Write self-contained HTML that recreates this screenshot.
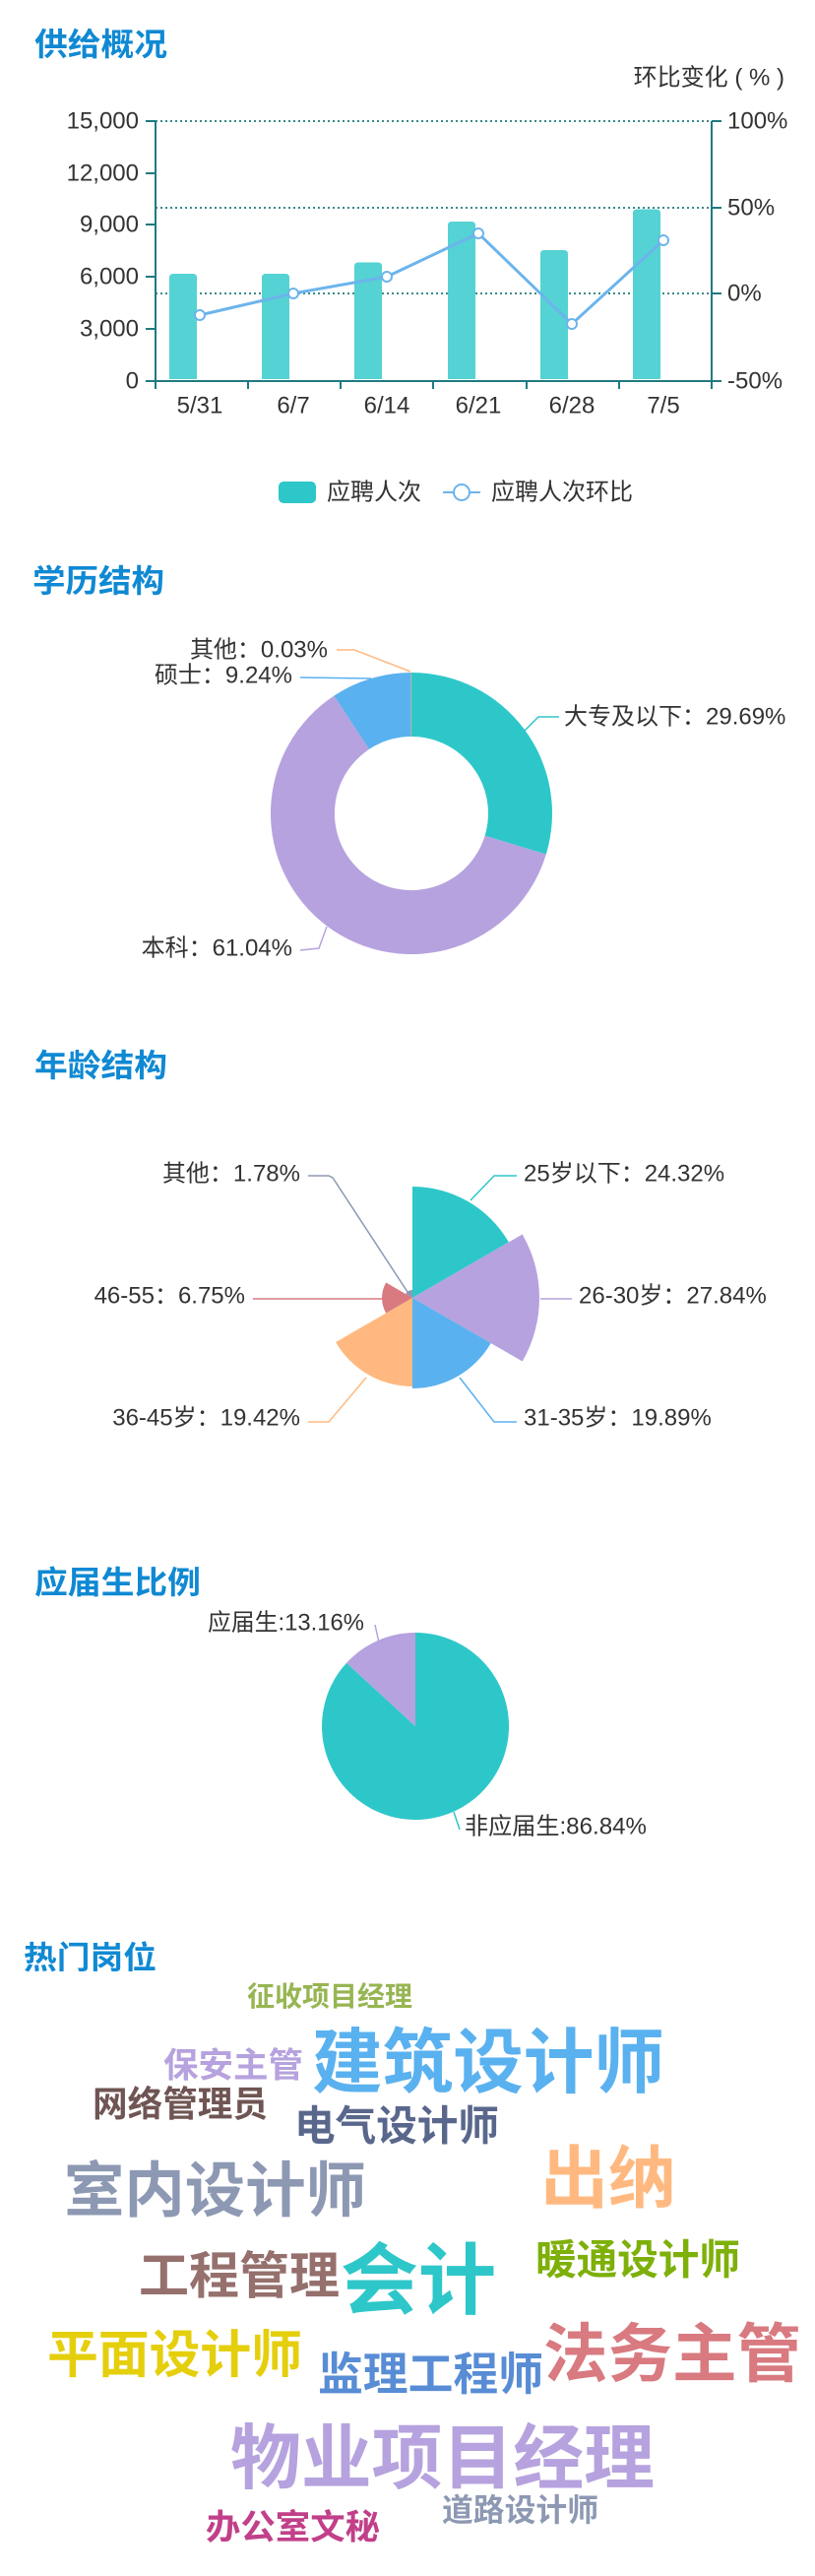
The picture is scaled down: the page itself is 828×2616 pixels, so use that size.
<!DOCTYPE html>
<html><head><meta charset="utf-8"><style>
html,body{margin:0;padding:0;background:#fff;}
svg{display:block;font-family:"Liberation Sans","Noto Sans CJK SC",sans-serif;}
.t{font-size:32px;font-weight:bold;fill:#1089d3;}
.ax{font-size:24px;fill:#333;}
.lb{font-size:24px;fill:#333;}
.w{font-weight:bold;font-family:"Noto Sans CJK SC","WenQuanYi Zen Hei",sans-serif;}
</style></head><body>
<svg width="828" height="2616" viewBox="0 0 828 2616" xmlns="http://www.w3.org/2000/svg">
<!-- Section 1 -->
<text class="t" x="35" y="45" dominant-baseline="central" textLength="135" lengthAdjust="spacingAndGlyphs">供给概况</text>
<text class="ax" x="797" y="79" text-anchor="end" dominant-baseline="central">环比变化 ( % )</text>
<g stroke="#3a8a8a" stroke-width="2" stroke-dasharray="2,3">
<line x1="158" y1="123" x2="723" y2="123"/><line x1="158" y1="211" x2="723" y2="211"/><line x1="158" y1="298" x2="723" y2="298"/>
</g>
<g fill="#55d2d3">
<path d="M172,385 V282 Q172,278 176,278 H196 Q200,278 200,282 V385 Z"/>
<path d="M266,385 V282 Q266,278 270,278 H290 Q294,278 294,282 V385 Z"/>
<path d="M360,385 V270.5 Q360,266.5 364,266.5 H384 Q388,266.5 388,270.5 V385 Z"/>
<path d="M455,385 V229 Q455,225 459,225 H479 Q483,225 483,229 V385 Z"/>
<path d="M549,385 V258 Q549,254 553,254 H573 Q577,254 577,258 V385 Z"/>
<path d="M643,385 V216.5 Q643,212.5 647,212.5 H667 Q671,212.5 671,216.5 V385 Z"/>
</g>
<g stroke="#1f7a80" stroke-width="2" fill="none">
<line x1="158" y1="123" x2="158" y2="395"/><line x1="723" y1="123" x2="723" y2="395"/>
<line x1="158" y1="387" x2="723" y2="387"/>
<line x1="252" y1="387" x2="252" y2="395"/><line x1="346" y1="387" x2="346" y2="395"/><line x1="440" y1="387" x2="440" y2="395"/><line x1="535" y1="387" x2="535" y2="395"/><line x1="629" y1="387" x2="629" y2="395"/>
<line x1="148" y1="123" x2="158" y2="123"/><line x1="148" y1="176" x2="158" y2="176"/><line x1="148" y1="228" x2="158" y2="228"/><line x1="148" y1="281" x2="158" y2="281"/><line x1="148" y1="334" x2="158" y2="334"/><line x1="148" y1="387" x2="158" y2="387"/>
<line x1="723" y1="123" x2="733" y2="123"/><line x1="723" y1="211" x2="733" y2="211"/><line x1="723" y1="298" x2="733" y2="298"/><line x1="723" y1="387" x2="733" y2="387"/>
</g>
<polyline points="203,320 298,298 393,281 486,237 581,329 674,244" fill="none" stroke="#6cb4ec" stroke-width="3"/>
<g fill="#fff" stroke="#6cb4ec" stroke-width="2">
<circle cx="203" cy="320" r="5"/><circle cx="298" cy="298" r="5"/><circle cx="393" cy="281" r="5"/><circle cx="486" cy="237" r="5"/><circle cx="581" cy="329" r="5"/><circle cx="674" cy="244" r="5"/>
</g>
<g class="ax" text-anchor="end" dominant-baseline="central">
<text x="141" y="123">15,000</text><text x="141" y="176">12,000</text><text x="141" y="228">9,000</text><text x="141" y="281">6,000</text><text x="141" y="334">3,000</text><text x="141" y="387">0</text>
</g>
<g class="ax" dominant-baseline="central">
<text x="739" y="123">100%</text><text x="739" y="211">50%</text><text x="739" y="298">0%</text><text x="739" y="387">-50%</text>
</g>
<g class="ax" text-anchor="middle" dominant-baseline="central">
<text x="203" y="412">5/31</text><text x="298" y="412">6/7</text><text x="393" y="412">6/14</text><text x="486" y="412">6/21</text><text x="581" y="412">6/28</text><text x="674" y="412">7/5</text>
</g>
<rect x="283" y="489" width="38" height="22" rx="5" fill="#2ec7c9"/>
<text class="ax" x="332" y="500" dominant-baseline="central">应聘人次</text>
<line x1="450" y1="500" x2="488" y2="500" stroke="#6cb4ec" stroke-width="2"/>
<circle cx="469" cy="500" r="8" fill="#fff" stroke="#6cb4ec" stroke-width="2"/>
<text class="ax" x="499" y="500" dominant-baseline="central">应聘人次环比</text>

<!-- Section 2 -->
<text class="t" x="33" y="590" dominant-baseline="central" textLength="134" lengthAdjust="spacingAndGlyphs">学历结构</text>
<path d="M418,683 A143,143 0 0 1 554.8,867.6 L492.6,848.7 A78,78 0 0 0 418,748 Z" fill="#2ec7c9"/>
<path d="M554.8,867.6 A143,143 0 1 1 339.3,706.6 L375.1,760.9 A78,78 0 1 0 492.6,848.7 Z" fill="#b6a2de"/>
<path d="M339.3,706.6 A143,143 0 0 1 417.75,683 L417.9,748 A78,78 0 0 0 375.1,760.9 Z" fill="#5ab1ef"/>
<line x1="417.8" y1="683" x2="417.8" y2="748" stroke="#ffb980" stroke-width="0.6"/>
<g fill="none" stroke-width="1.5">
<polyline points="342,660 360,660 417,682" stroke="#ffb980"/>
<polyline points="305,688 377,689" stroke="#5ab1ef"/>
<polyline points="533,742 547,728 568,728" stroke="#2ec7c9"/>
<polyline points="305,965 324,963 332,941" stroke="#b6a2de"/>
</g>
<g class="lb" dominant-baseline="central">
<text x="333" y="660" text-anchor="end">其他：0.03%</text>
<text x="297" y="686" text-anchor="end">硕士：9.24%</text>
<text x="573" y="728">大专及以下：29.69%</text>
<text x="297" y="963" text-anchor="end">本科：61.04%</text>
</g>

<!-- Section 3 -->
<text class="t" x="35" y="1082" dominant-baseline="central" textLength="135" lengthAdjust="spacingAndGlyphs">年龄结构</text>
<path d="M419,1318 L419,1205 A113,113 0 0 1 516.9,1261.5 Z" fill="#2ec7c9"/>
<path d="M419,1318 L530.7,1253.5 A129,129 0 0 1 530.7,1382.5 Z" fill="#b6a2de"/>
<path d="M419,1318 L498.7,1364 A92,92 0 0 1 419,1410 Z" fill="#5ab1ef"/>
<path d="M419,1318 L419,1408 A90,90 0 0 1 341.1,1363 Z" fill="#ffb980"/>
<path d="M419,1318 L392.2,1333.5 A31,31 0 0 1 392.2,1302.5 Z" fill="#d87a80"/>
<path d="M419,1318 L412.1,1314 A8,8 0 0 1 419,1310 Z" fill="#8d98b3"/>
<g fill="none" stroke-width="1.5">
<polyline points="478,1219 502,1194 525,1194" stroke="#2ec7c9"/>
<polyline points="549,1319 581,1319" stroke="#b6a2de"/>
<polyline points="467,1399 502,1444 525,1444" stroke="#5ab1ef"/>
<polyline points="372,1399 334,1444 313,1444" stroke="#ffb980"/>
<polyline points="390,1319 257,1319" stroke="#d87a80"/>
<polyline points="414,1312 338,1196 334,1194 313,1194" stroke="#8d98b3"/>
</g>
<g class="lb" dominant-baseline="central">
<text x="532" y="1192">25岁以下：24.32%</text>
<text x="588" y="1316">26-30岁：27.84%</text>
<text x="532" y="1440">31-35岁：19.89%</text>
<text x="305" y="1440" text-anchor="end">36-45岁：19.42%</text>
<text x="249" y="1316" text-anchor="end">46-55：6.75%</text>
<text x="305" y="1192" text-anchor="end">其他：1.78%</text>
</g>

<!-- Section 4 -->
<text class="t" x="35" y="1607" dominant-baseline="central" textLength="169" lengthAdjust="spacingAndGlyphs">应届生比例</text>
<path d="M422,1753 L422,1658 A95,95 0 1 1 352.1,1688.7 Z" fill="#2ec7c9"/>
<path d="M422,1753 L352.1,1688.7 A95,95 0 0 1 422,1658 Z" fill="#b6a2de"/>
<polyline points="381,1650 385,1668" fill="none" stroke="#b6a2de" stroke-width="1.5"/>
<polyline points="461,1840 467,1858" fill="none" stroke="#2ec7c9" stroke-width="1.5"/>
<g class="lb" dominant-baseline="central">
<text x="211" y="1648" textLength="159" lengthAdjust="spacingAndGlyphs">应届生:13.16%</text>
<text x="472" y="1855" textLength="185" lengthAdjust="spacingAndGlyphs">非应届生:86.84%</text>
</g>

<!-- Section 5 -->
<text class="t" x="24" y="1988" dominant-baseline="central" textLength="135" lengthAdjust="spacingAndGlyphs">热门岗位</text>
<g class="w" dominant-baseline="central">
<text x="251" y="2026" font-size="28" fill="#97b552" textLength="168" lengthAdjust="spacingAndGlyphs">征收项目经理</text>
<text x="317" y="2088" font-size="72" fill="#5ab1ef" textLength="358" lengthAdjust="spacingAndGlyphs">建筑设计师</text>
<text x="166" y="2095" font-size="35" fill="#b6a2de" textLength="142" lengthAdjust="spacingAndGlyphs">保安主管</text>
<text x="94" y="2134" font-size="36" fill="#6f5553" textLength="178" lengthAdjust="spacingAndGlyphs">网络管理员</text>
<text x="299" y="2156" font-size="42" fill="#59678c" textLength="208" lengthAdjust="spacingAndGlyphs">电气设计师</text>
<text x="65" y="2219" font-size="61" fill="#8d98b3" textLength="307" lengthAdjust="spacingAndGlyphs">室内设计师</text>
<text x="549" y="2206" font-size="69" fill="#ffb980" textLength="138" lengthAdjust="spacingAndGlyphs">出纳</text>
<text x="544" y="2292" font-size="42" fill="#7eb00a" textLength="208" lengthAdjust="spacingAndGlyphs">暖通设计师</text>
<text x="141" y="2307" font-size="51" fill="#95706d" textLength="204" lengthAdjust="spacingAndGlyphs">工程管理</text>
<text x="346" y="2309" font-size="79" fill="#2ec7c9" textLength="158" lengthAdjust="spacingAndGlyphs">会计</text>
<text x="48" y="2387" font-size="52" fill="#e5cf0d" textLength="259" lengthAdjust="spacingAndGlyphs">平面设计师</text>
<text x="323" y="2408" font-size="46" fill="#588dd5" textLength="229" lengthAdjust="spacingAndGlyphs">监理工程师</text>
<text x="552" y="2385" font-size="65" fill="#d87a80" textLength="262" lengthAdjust="spacingAndGlyphs">法务主管</text>
<text x="234" y="2490" font-size="72" fill="#b6a2de" textLength="431" lengthAdjust="spacingAndGlyphs">物业项目经理</text>
<text x="449" y="2547" font-size="32" fill="#8d98b3" textLength="159" lengthAdjust="spacingAndGlyphs">道路设计师</text>
<text x="209" y="2564" font-size="35" fill="#c14089" textLength="177" lengthAdjust="spacingAndGlyphs">办公室文秘</text>
</g>
</svg>
</body></html>
